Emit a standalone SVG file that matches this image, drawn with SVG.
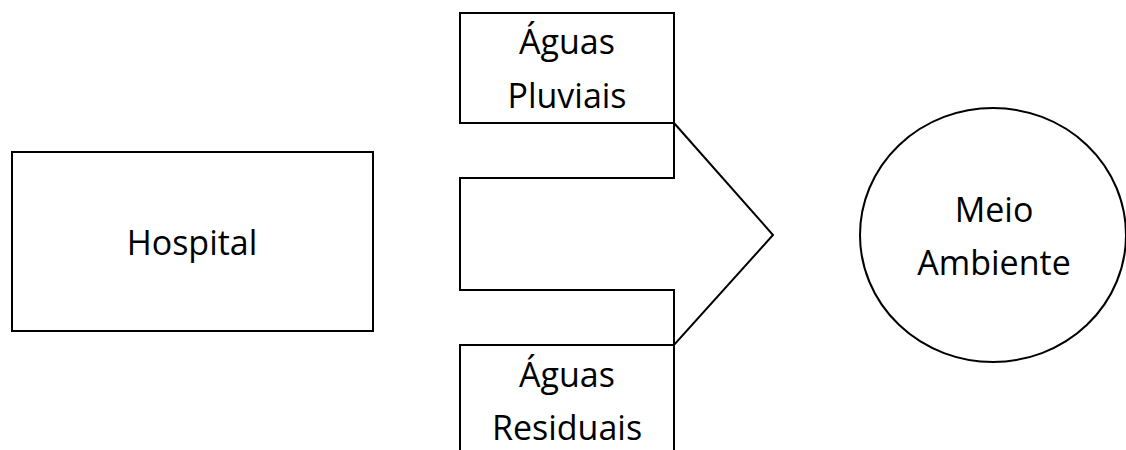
<svg xmlns="http://www.w3.org/2000/svg" width="1126" height="450" viewBox="0 0 1126 450">
<style>
.s{fill:#fff;stroke:#000;stroke-width:2}
.t{font-family:"Open Sans","Liberation Sans",sans-serif;font-size:34px;fill:#000;text-anchor:middle}
</style>
<rect width="1126" height="450" fill="#fff"/>
<g id="connectors">
<path class="s" d="M460,178 L674,178 L674,123 L773,235 L674,345 L674,290 L460,290 Z"/>
</g>
<g id="hospital">
<rect class="s" x="12" y="152" width="361" height="179"/>
<text class="t" x="192" y="255">Hospital</text>
</g>
<g id="pluviais">
<rect class="s" x="460" y="13" width="214" height="110"/>
<text class="t" x="567" y="54">Águas</text>
<text class="t" x="567" y="108">Pluviais</text>
</g>
<g id="residuais">
<rect class="s" x="460" y="345" width="214" height="120"/>
<text class="t" x="567" y="387">Águas</text>
<text class="t" x="567" y="440">Residuais</text>
</g>
<g id="meio">
<ellipse class="s" cx="993" cy="235" rx="133" ry="127"/>
<text class="t" x="994" y="222">Meio</text>
<text class="t" x="994" y="275">Ambiente</text>
</g>
</svg>
